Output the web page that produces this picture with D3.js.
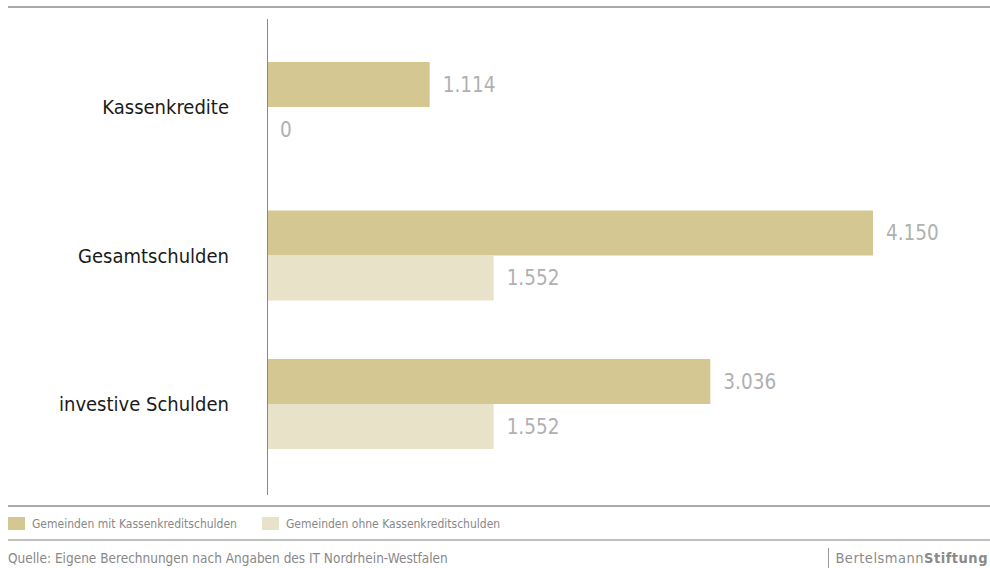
<!DOCTYPE html>
<html><head><meta charset="utf-8">
<script src="https://cdn.jsdelivr.net/npm/d3@7"></script>
<style>body{margin:0;background:#fff;}svg{display:block;}</style>
</head><body>
<svg id="c" width="990" height="568"></svg>
<script>
const categories = ["Kassenkredite", "Gesamtschulden", "investive Schulden"];
const seriesNames = ["Gemeinden mit Kassenkreditschulden", "Gemeinden ohne Kassenkreditschulden"];
const seriesMit = [1114, 4150, 3036];
const seriesOhne = [0, 1552, 1552];
const colors = ["#d4c791", "#e8e2c8"];
const sourceText = "Quelle: Eigene Berechnungen nach Angaben des IT Nordrhein-Westfalen";

const fmt = v => d3.format(",")(v).replace(/,/g, ".");
const font = "'DejaVu Sans Condensed', 'Liberation Sans Narrow', sans-serif";
const svg = d3.select("#c");

const x = d3.scaleLinear().domain([0, 4150]).range([267, 873]);
const y = d3.scaleBand().domain(categories).range([62, 449]).paddingInner(0.394).paddingOuter(0);
const sub = d3.scaleBand().domain([0, 1]).range([0, y.bandwidth()]);

// top rule
svg.append("line").attr("x1", 8).attr("x2", 990).attr("y1", 7).attr("y2", 7)
  .attr("stroke", "#aaa").attr("stroke-width", 2);

const series = [seriesMit, seriesOhne];
series.forEach((vals, si) => {
  svg.append("g").selectAll("rect").data(vals).join("rect")
    .attr("x", x(0)).attr("y", (d, i) => y(categories[i]) + sub(si))
    .attr("width", d => x(d) - x(0)).attr("height", sub.bandwidth())
    .attr("fill", colors[si]);
  svg.append("g").selectAll("text").data(vals).join("text")
    .attr("x", d => x(d) + 13).attr("y", (d, i) => y(categories[i]) + sub(si) + sub.bandwidth() / 2)
    .attr("dy", "0.35em").attr("font-family", font).attr("font-size", 20.5)
    .attr("fill", "#b0b0b0").text(d => fmt(d));
});

// axis line
svg.append("line").attr("x1", 267.5).attr("x2", 267.5).attr("y1", 19).attr("y2", 495)
  .attr("stroke", "#888").attr("stroke-width", 1);

// category labels
svg.append("g").selectAll("text").data(categories).join("text")
  .attr("x", 229).attr("y", d => y(d) + y.bandwidth() / 2)
  .attr("dy", "0.35em").attr("text-anchor", "end")
  .attr("font-family", font).attr("font-size", 20).attr("fill", "#1a1a1a").text(d => d);

// legend
svg.append("line").attr("x1", 8).attr("x2", 990).attr("y1", 506).attr("y2", 506)
  .attr("stroke", "#aaa").attr("stroke-width", 2);
const legX = [8, 262];
seriesNames.forEach((n, i) => {
  svg.append("rect").attr("x", legX[i]).attr("y", 517).attr("width", 17).attr("height", 13).attr("fill", colors[i]);
  svg.append("text").attr("x", legX[i] + 24).attr("y", 524).attr("dy", "0.35em")
    .attr("font-family", font).attr("font-size", 12).attr("fill", "#888").text(n);
});
svg.append("line").attr("x1", 8).attr("x2", 990).attr("y1", 540).attr("y2", 540)
  .attr("stroke", "#aaa").attr("stroke-width", 1.5);

svg.append("text").attr("x", 8).attr("y", 558).attr("dy", "0.35em")
  .attr("font-family", font).attr("font-size", 13.5).attr("fill", "#888").text(sourceText);

// logo
svg.append("line").attr("x1", 828.5).attr("x2", 828.5).attr("y1", 548).attr("y2", 568)
  .attr("stroke", "#999").attr("stroke-width", 1);
const logo = svg.append("text").attr("x", 988).attr("y", 558).attr("dy", "0.35em").attr("text-anchor", "end")
  .attr("font-family", font).attr("font-size", 14.5).attr("fill", "#8a8a8a").attr("letter-spacing", 0.5);
logo.append("tspan").text("Bertelsmann");
logo.append("tspan").attr("font-weight", "bold").text("Stiftung");
</script>
</body></html>
